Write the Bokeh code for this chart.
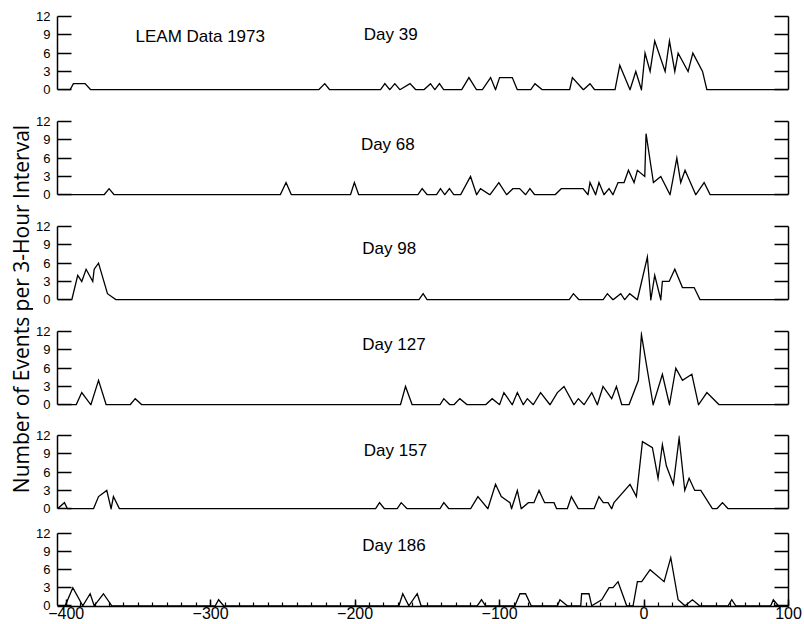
from bokeh.plotting import figure
from bokeh.models import Range1d, LinearAxis, FixedTicker, SingleIntervalTicker, Label, CustomJSTickFormatter
from bokeh.layouts import row, column
from bokeh.embed import file_html
from bokeh.resources import INLINE

# ---------------- data ----------------
day_names = ["Day 39", "Day 68", "Day 98", "Day 127", "Day 157", "Day 186"]
y_ticks = [0, 3, 6, 9, 12]
x_tick_interval = 100

day39_x = [-406, -397.3, -395, -386.9, -383, -225.2, -221, -217.6, -182.5, -179.4, -176, -172.5, -169, -162, -158,
           -152.4, -147.8, -144.8, -141.6, -138.6, -126.3, -121.2, -115.9, -112, -106.2, -102.8, -100, -91.2, -87.7,
           -78.5, -75.5, -70.4, -51.5, -49.6, -42, -37.4, -34.2, -20.1, -16.8, -9.7, -5.7, -1.8, 0.7, 4.2, 7.4, 14.6,
           17.6, 21.3, 23.6, 30.5, 33.8, 40.5, 43.5, 100]
day39_y = [0, 0, 1, 1, 0, 0, 1, 0, 0, 1, 0, 1, 0, 1, 0, 0, 1, 0, 1, 0, 0, 2, 0, 0, 2, 0, 2, 2, 0, 0, 1, 0, 0, 2, 0, 1,
           0, 0, 4, 0, 3, 0, 6, 3, 8, 3, 8, 3, 6, 3, 6, 3, 0, 0]

day68_x = [-406, -373.7, -370.3, -366.8, -251.8, -247.8, -244.1, -203.2, -200.5, -197.5, -156.6, -153.6, -150.1,
           -143.7, -140.9, -137.9, -134.7, -131.6, -127, -120.1, -115.9, -113.2, -106.7, -100.5, -95.1, -90.8, -86.1,
           -82, -79, -75.7, -61.6, -57.3, -42.2, -38.8, -37.4, -33.5, -31.2, -27.7, -24.2, -21.5, -18, -13.8, -10.8,
           -6.9, -4.6, 0.5, 1.4, 6.5, 11.6, 18, 22.7, 25.4, 28.4, 35.8, 41.6, 45.8, 100]
day68_y = [0, 0, 1, 0, 0, 2, 0, 0, 2, 0, 0, 1, 0, 0, 1, 0, 1, 0, 0, 3, 0, 1, 0, 2, 0, 1, 1, 0, 1, 0, 0, 1, 1, 0, 2, 0,
           2, 0, 1, 0, 2, 2, 4, 2, 4, 3, 10, 2, 3, 0, 6, 2, 4, 0, 2, 0, 0]

day98_x = [-406, -396.1, -392, -389.2, -386.2, -381.6, -380.6, -377.6, -371.4, -365.4, -155.9, -152.9, -150.1, -51.9,
           -48.9, -45, -28.4, -25.4, -21.5, -16.1, -13.4, -9.9, -4.6, 2.3, 4.7, 7.4, 11.6, 12.7, 17.4, 21.3, 26.6,
           34.7, 38.8, 100]
day98_y = [0, 0, 4, 3, 5, 3, 5, 6, 1, 0, 0, 1, 0, 0, 1, 0, 0, 1, 0, 1, 0, 1, 0, 7, 0, 4, 0, 3, 3, 5, 2, 2, 0, 0]

day127_x = [-406, -393.1, -389.2, -382.9, -377.6, -372.3, -355.7, -352.2, -347.6, -168.6, -165.1, -160.5, -141.3,
            -138.6, -134.4, -131.6, -127.5, -122.4, -109.7, -105.1, -100, -97, -91.2, -87.7, -83.6, -80.8, -76.7,
            -71.6, -65.1, -60, -55.4, -48.5, -45.5, -41.5, -36.2, -32.3, -28.4, -22.4, -19.1, -15.4, -10.4, -3.9,
            -1.8, 6.3, 12.7, 17.6, 22, 26.6, 33.1, 37.7, 43.5, 52, 100]
day127_y = [0, 0, 2, 0, 4, 0, 0, 1, 0, 0, 3, 0, 0, 1, 0, 0, 1, 0, 0, 1, 0, 2, 0, 2, 0, 1, 0, 2, 0, 2, 3, 0, 1, 0, 2,
            0, 3, 1, 3, 0, 0, 4, 11.5, 0, 5, 0, 6, 4, 5, 0, 2, 0, 0]

day157_x = [-406, -401.2, -399.1, -381.1, -377.6, -371.9, -368.9, -367.3, -363.1, -185.9, -183.1, -179.7, -170.9,
            -168.1, -164, -141.3, -138.6, -135.1, -120.1, -115, -108.1, -102.8, -98.8, -92.8, -91.7, -87.7, -85,
            -80.1, -76.2, -72.7, -68.8, -62.3, -60.5, -53.1, -50.3, -45.5, -34.6, -31.2, -28.2, -24.9, -22.4, -20.8,
            -9.7, -5.3, -1.1, 5.8, 9.7, 12.7, 15.5, 20.3, 24.3, 28.2, 31.2, 35.1, 39.3, 47.4, 50.4, 54.3, 58.2, 100]
day157_y = [0, 1, 0, 0, 2, 3, 0, 2, 0, 0, 1, 0, 0, 1, 0, 0, 1, 0, 0, 2, 0, 4, 2, 1, 0, 3, 0, 1, 1, 3, 1, 1, 0, 0, 2,
            0, 0, 2, 1, 1, 0, 1, 4, 2, 11, 10, 5, 10.5, 7, 4, 11.6, 3, 5, 3, 3, 0, 0, 1, 0, 0]

day186_x = [-406, -400.7, -395.4, -388.5, -383.4, -380.6, -374.2, -368.4, -296.8, -294.5, -291, -169.7, -167, -162.8,
            -157, -154.3, -115.5, -112.5, -109.7, -89.4, -85.9, -82, -78.1, -60, -58.2, -53.1, -43.8, -43.2, -38.1,
            -36.2, -29.3, -24.2, -21.5, -18, -12, -7.6, -4.6, -1.6, 4.2, 13.9, 18.5, 23.6, 28.4, 33.5, 38.5, 58.2,
            60.7, 63.5, 87.7, 89.5, 93, 100]
day186_y = [0, 0, 3, 0, 2, 0, 2, 0, 0, 1, 0, 0, 2, 0, 2, 0, 0, 1, 0, 0, 2, 2, 0, 0, 1, 0, 0, 2, 2, 0, 1, 3, 3, 4, 0,
            0, 4, 4, 6, 4, 8, 1, 0, 1, 0, 0, 1, 0, 0, 1, 0, 0]

series_x = [day39_x, day68_x, day98_x, day127_x, day157_x, day186_x]
series_y = [day39_y, day68_y, day98_y, day127_y, day157_y, day186_y]

# ---------------- layout / style ----------------
TICK_FONT = "Liberation Sans"
name_pos = [(-194, 9.0), (-196, 8.2), (-195, 8.4), (-195, 9.9), (-194, 9.5), (-195, 10.0)]
# (border_top, frame_height, border_bottom) per panel
geom = [(16, 74, 23), (8, 74, 23), (8, 74, 23), (8, 74, 23), (7, 74, 16), (8, 73, 18)]
LAB_W = 33

panels = []
for i in range(6):
    last = (i == 5)
    bt, fh, bb = geom[i]
    p = figure(frame_width=731, frame_height=fh, output_backend="svg", toolbar_location=None,
               x_range=Range1d(-406, 100), y_range=Range1d(-0.12, 12),
               min_border_left=57 - LAB_W, min_border_right=16, min_border_top=bt, min_border_bottom=bb,
               x_axis_location=None, y_axis_location=None)
    p.outline_line_color = None
    p.grid.visible = False
    p.background_fill_color = "white"
    p.border_fill_color = "white"

    yl = LinearAxis(ticker=FixedTicker(ticks=y_ticks), bounds=(0, 12))
    yl.axis_line_width = 1.5
    yl.major_tick_in = 14
    yl.major_tick_out = 0
    yl.major_tick_line_width = 1.5
    yl.minor_tick_line_color = None
    yl.major_label_standoff = 7
    yl.major_label_text_font = TICK_FONT
    yl.major_label_text_font_size = "13px"
    yl.major_label_text_color = "black"
    p.add_layout(yl, "left")

    yr = LinearAxis(ticker=FixedTicker(ticks=y_ticks), bounds=(0, 12))
    yr.axis_line_width = 1.5
    yr.major_tick_in = 14
    yr.major_tick_out = 0
    yr.major_tick_line_width = 1.5
    yr.minor_tick_line_color = None
    yr.formatter = CustomJSTickFormatter(code="return ''")
    yr.major_label_standoff = 0
    p.add_layout(yr, "right")

    if last:
        xa = LinearAxis(ticker=SingleIntervalTicker(interval=x_tick_interval, num_minor_ticks=10))
        xa.axis_line_width = 1.5
        xa.major_tick_in = 7
        xa.major_tick_out = 0
        xa.major_tick_line_width = 1.5
        xa.minor_tick_in = 4
        xa.minor_tick_out = 0
        xa.minor_tick_line_width = 1.2
        xa.major_label_standoff = 0
        xa.major_label_text_font = TICK_FONT
        xa.major_label_text_font_size = "16px"
        xa.major_label_text_color = "black"
        p.add_layout(xa, "below")

    p.line(series_x[i], series_y[i], line_color="black", line_width=1.3, line_join="miter")

    nx, ny = name_pos[i]
    p.add_layout(Label(x=nx, y=ny, text=day_names[i], text_font=TICK_FONT, text_font_size="17px",
                       text_align="left", text_baseline="middle", text_color="black"))
    if i == 0:
        p.add_layout(Label(x=-352, y=8.7, text="LEAM Data 1973", text_font=TICK_FONT, text_font_size="17px",
                           text_align="left", text_baseline="middle", text_color="black"))
    panels.append(p)

H = 624
lab = figure(width=LAB_W, height=H, x_range=Range1d(0, LAB_W), y_range=Range1d(0, H), output_backend="svg",
             toolbar_location=None, min_border=0, x_axis_location=None, y_axis_location=None)
lab.outline_line_color = None
lab.grid.visible = False
lab.add_layout(Label(x=20, y=H - 308.5, text="Number of Events per 3-Hour Interval", angle=90, angle_units="deg",
                     text_align="center", text_baseline="middle", text_font="Open Sans", text_font_size="21px",
                     text_color="black"))

layout = row(lab, column(*panels, spacing=0), spacing=0)
open("out.html", "w").write(file_html(layout, INLINE))
